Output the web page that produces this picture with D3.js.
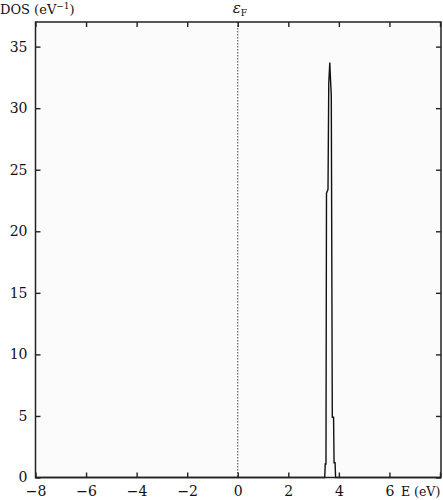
<!DOCTYPE html>
<html>
<head>
<meta charset="utf-8">
<script src="https://cdn.jsdelivr.net/npm/d3@7"></script>
<style>
  html, body { margin: 0; padding: 0; background: #ffffff; }
  svg { display: block; }
</style>
</head>
<body>
<svg id="chart" width="443" height="500"></svg>
<script>
// ---- data ----
const energy = [-8, 3.44, 3.46, 3.49, 3.51, 3.57, 3.60, 3.64, 3.67, 3.70, 3.74, 3.79, 3.81, 3.85, 3.87, 8];
const dos    = [0,  0,    1.1,  1.1,  23.1, 23.4, 32.0, 33.7, 32.3, 31.0, 4.9,  4.9,  1.2,  1.2,  0,    0];
const xTicks = [-8, -6, -4, -2, 0, 2, 4, 6, 8];
const xTickLabels = ["−8", "−6", "−4", "−2", "0", "2", "4", "6", ""];
const yTicks = [0, 5, 10, 15, 20, 25, 30, 35];
const xDomain = [-8, 8];
const yDomain = [0, 37];
const fermiLevel = 0;

(function () {
const svg = d3.select("#chart");
const L = 35.5, R = 440, T = 22, B = 477.5;
const FONT = "DejaVu Serif";

const x = d3.scaleLinear().domain(xDomain).range([L, R]);
const y = d3.scaleLinear().domain(yDomain).range([B, T]);

// plot background
svg.append("rect").attr("x", L).attr("y", T).attr("width", 441 - L).attr("height", B - T)
  .attr("fill", "#fbfbfb");

// fermi level dotted line
svg.append("line")
  .attr("x1", x(fermiLevel)).attr("x2", x(fermiLevel))
  .attr("y1", T).attr("y2", B)
  .attr("stroke", "#444").attr("stroke-width", 1).attr("stroke-dasharray", "1.5,1.5");

// DOS curve
const pts = energy.map((e, i) => [e, dos[i]]);
svg.append("path")
  .datum(pts)
  .attr("fill", "none")
  .attr("stroke", "#111")
  .attr("stroke-width", 1.4)
  .attr("stroke-linejoin", "miter")
  .attr("d", d3.line().x(d => x(d[0])).y(d => y(d[1])));

// axes
const fmtX = (d) => xTickLabels[xTicks.indexOf(d)];
const gBottom = svg.append("g").attr("transform", `translate(0,${B})`)
  .call(d3.axisBottom(x).tickValues(xTicks).tickFormat(fmtX).tickSizeInner(-5).tickSizeOuter(0).tickPadding(9));
const gTop = svg.append("g").attr("transform", `translate(0,${T})`)
  .call(d3.axisTop(x).tickValues(xTicks).tickFormat("").tickSizeInner(-5).tickSizeOuter(0));
const gLeft = svg.append("g").attr("transform", `translate(${L},0)`)
  .call(d3.axisLeft(y).tickValues(yTicks).tickSizeInner(-5).tickSizeOuter(0).tickPadding(8));
const gRight = svg.append("g").attr("transform", `translate(441,0)`)
  .call(d3.axisRight(y).tickValues(yTicks).tickFormat("").tickSizeInner(-5).tickSizeOuter(0));

[gBottom, gTop, gLeft, gRight].forEach(g => {
  g.attr("font-family", FONT).attr("font-size", 14);
  g.select(".domain").remove();
  g.selectAll(".tick line").attr("stroke", "#222").attr("stroke-width", 1.4);
  g.selectAll("text").attr("fill", "#111");
});

// frame
svg.append("rect").attr("x", L).attr("y", T).attr("width", 441 - L).attr("height", B - T)
  .attr("fill", "none").attr("stroke", "#222").attr("stroke-width", 1.5);

// labels
const yl = svg.append("text").attr("x", 0).attr("y", 14).attr("font-family", FONT).attr("font-size", 13).attr("fill", "#111");
yl.append("tspan").text("DOS (eV");
yl.append("tspan").attr("font-size", 9).attr("dy", -5).text("−1");
yl.append("tspan").attr("dy", 5).text(")");

const ef = svg.append("text").attr("x", x(fermiLevel) - 5).attr("y", 13).attr("font-family", FONT).attr("font-size", 15).attr("fill", "#111");
ef.append("tspan").attr("font-style", "italic").text("ε");
ef.append("tspan").attr("font-size", 9).attr("dy", 3).text("F");

svg.append("text").attr("x", 401).attr("y", 496).attr("font-family", FONT).attr("font-size", 12.5).attr("fill", "#111").text("E (eV)");
})();
</script>
</body>
</html>
